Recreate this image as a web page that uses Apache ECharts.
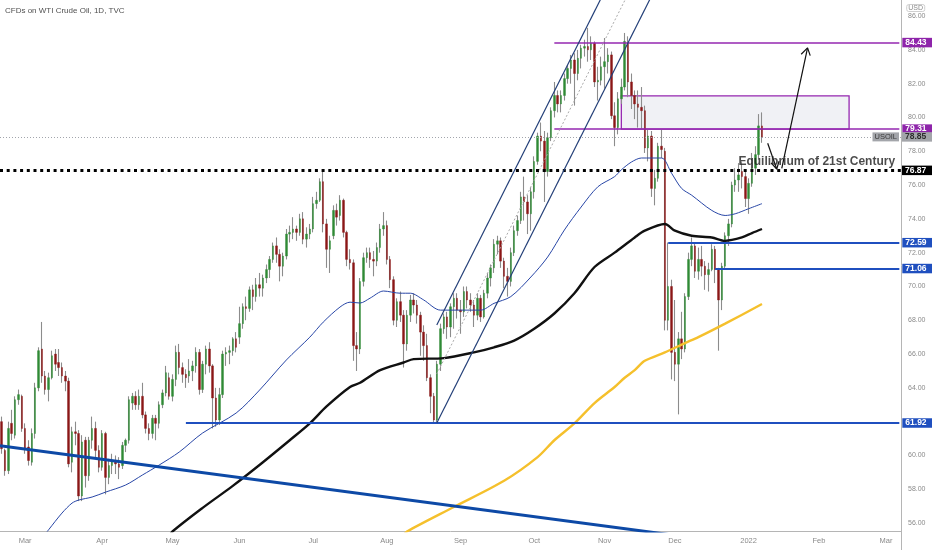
<!DOCTYPE html>
<html>
<head>
<meta charset="utf-8">
<script src="https://cdn.jsdelivr.net/npm/echarts@6/dist/echarts.min.js"></script>
</head>
<body style="margin:0;background:#fff">
<div id="chart" style="width:932px;height:550px"></div>
<script>
// trading days: weekdays between these dates, minus the days TVC had no bar
var firstDay = '2021-02-18', lastDay = '2022-03-07';
var closedDays = ['2021-04-02', '2021-05-31', '2021-11-25', '2021-12-24'];

// daily candles, [open, close, low, high]
var feb21 = [[62.0,60.4,60.1,62.3],[60.3,59.1,58.8,60.4],[59.1,61.6,58.9,62.0],[61.9,61.3,60.9,62.7],[61.2,63.3,61.0,63.5],[63.3,63.6,63.0,63.9],[63.5,61.6,61.4,63.6]];
var mar21 = [[61.6,60.4,60.1,61.9],[60.5,59.7,59.4,60.9],[59.6,61.3,59.4,61.6],[61.3,64.0,61.0,64.3],[64.0,66.2,63.8,66.4],[66.3,64.7,64.3,67.9],[64.7,63.9,63.6,65.0],[63.9,64.6,63.2,64.9],[64.6,65.9,64.5,66.2],[66.0,65.4,65.0,66.3],[65.5,65.2,64.7,66.3],[65.2,64.7,64.3,65.5],[64.7,64.4,63.8,65.0],[64.4,59.5,59.3,64.6],[59.6,61.4,59.0,61.7],[61.4,61.3,60.6,62.0],[61.3,57.6,57.3,61.5],[57.6,60.8,57.3,61.2],[60.9,58.8,58.1,61.1],[58.8,60.9,58.5,61.1],[60.9,61.6,60.4,62.3],[61.6,60.3,59.9,62.0],[60.3,59.3,59.0,60.6]];
var apr21 = [[59.3,61.3,59.1,61.5],[61.3,58.7,57.7,61.4],[58.7,59.4,58.3,59.8],[59.4,59.7,58.9,60.1],[59.7,59.5,58.9,60.0],[59.5,59.3,58.6,59.9],[59.4,60.6,59.2,60.8],[60.6,60.9,60.2,61.0],[60.9,63.3,60.7,63.5],[63.1,63.5,62.7,63.7],[63.5,63.0,62.7,63.8],[63.0,63.5,62.7,63.9],[63.5,62.4,62.2,64.3],[62.4,61.6,61.3,62.6],[61.6,61.3,60.9,61.9],[61.3,62.2,61.0,62.4],[62.2,61.9,60.9,62.4],[61.9,63.0,61.6,63.2],[63.0,63.7,62.8,63.9],[63.7,64.9,63.5,65.3],[64.6,63.5,63.3,64.9]];
var may21 = [[63.5,64.5,63.2,64.8],[64.5,66.1,64.1,66.5],[66.1,65.2,64.8,66.6],[65.2,64.8,64.3,65.5],[64.8,64.6,64.0,65.1],[64.7,65.0,64.3,65.7],[65.0,65.3,64.4,65.6],[65.3,66.1,64.9,66.4],[66.1,63.9,63.6,66.3],[63.9,65.4,63.7,65.6],[65.4,66.3,64.8,66.5],[66.3,65.3,64.9,66.7],[65.3,63.4,61.6,65.4],[63.4,62.1,61.7,64.0],[62.1,63.6,61.8,64.0],[63.6,66.0,63.4,66.2],[66.0,66.1,65.3,66.4],[66.1,66.2,65.4,66.5],[66.2,66.9,65.9,67.0],[66.9,66.4,66.1,67.3]];
var jun21 = [[67.0,67.8,66.6,68.8],[67.8,68.8,67.5,69.0],[68.8,68.7,68.0,69.4],[68.7,69.8,68.5,70.0],[69.8,69.4,68.6,70.1],[69.4,70.1,69.1,70.5],[70.1,69.9,69.4,70.8],[69.9,70.5,69.4,70.7],[70.5,71.0,70.2,71.3],[71.0,71.6,70.5,71.8],[71.6,72.4,71.4,72.6],[72.4,71.9,71.4,72.9],[71.9,71.2,70.3,72.2],[71.2,71.8,70.6,72.0],[71.8,73.1,71.6,73.4],[73.1,73.2,72.6,73.6],[73.2,73.4,72.8,74.1],[73.4,73.2,72.7,73.6],[73.2,74.0,73.0,74.3],[74.0,72.8,72.5,74.4],[72.8,73.1,72.3,73.5],[73.1,73.4,72.8,73.7]];
var jul21 = [[73.4,74.9,73.2,75.3],[74.9,75.1,74.6,75.6],[75.1,76.2,75.0,76.4],[76.2,73.7,73.2,76.87],[73.7,72.2,71.1,74.0],[72.2,72.7,70.8,73.0],[73.0,74.5,72.8,74.8],[74.5,74.1,73.6,74.9],[74.2,75.1,73.9,75.4],[75.1,73.2,72.9,75.2],[73.2,71.6,71.2,73.3],[71.6,71.4,71.0,72.2],[71.4,66.5,65.6,71.6],[66.5,66.3,65.0,67.3],[66.3,70.3,66.0,70.5],[70.3,71.7,70.0,72.0],[71.7,72.0,71.4,72.3],[72.0,71.6,71.1,72.3],[71.6,71.5,70.6,72.1],[71.5,72.3,71.2,72.6],[72.3,73.4,72.0,73.7],[73.4,73.6,73.0,74.4]];
var aug21 = [[73.6,71.6,71.3,73.9],[71.6,70.4,69.9,71.8],[70.4,68.0,67.7,70.6],[68.0,69.1,67.6,69.3],[69.1,68.3,67.9,69.7],[68.3,66.6,65.2,68.6],[66.6,68.3,66.2,68.6],[68.3,69.2,67.9,69.5],[69.2,68.9,68.4,69.6],[68.9,68.3,67.8,69.2],[68.3,67.3,65.9,68.5],[67.3,66.5,65.6,67.7],[66.5,64.6,64.4,67.2],[64.6,63.5,62.5,64.8],[63.5,62.1,61.92,63.7],[62.1,65.4,61.95,65.6],[65.4,67.5,65.0,67.8],[67.5,68.2,67.2,68.4],[68.2,67.6,66.9,68.5],[67.6,68.8,67.0,69.0],[68.8,69.3,67.5,69.6],[69.3,68.6,68.1,69.6]];
var sep21 = [[68.6,68.5,67.2,69.2],[68.5,69.7,68.2,70.0],[69.7,69.2,68.7,70.0],[69.2,68.9,68.5,69.6],[68.9,68.3,67.6,69.2],[68.3,69.3,68.0,69.6],[69.3,68.2,67.9,69.5],[68.2,69.6,68.1,69.8],[69.6,70.5,69.3,70.8],[70.5,71.1,70.0,71.3],[71.1,72.5,70.8,72.8],[72.5,72.7,71.9,73.0],[72.7,71.5,71.1,72.9],[71.5,70.6,69.9,71.7],[70.6,70.3,69.4,71.1],[70.3,72.0,70.0,72.3],[72.0,73.3,71.8,73.6],[73.3,73.9,73.0,74.2],[73.9,75.3,73.7,75.6],[75.3,75.0,73.9,76.5],[75.0,74.3,73.1,75.4],[74.3,75.6,73.3,75.9]];
var oct21 = [[75.6,77.4,75.2,77.7],[77.4,78.9,77.2,79.1],[78.9,78.6,78.0,79.7],[78.6,76.8,75.0,79.2],[76.8,78.8,76.5,79.1],[78.8,80.4,78.6,80.6],[80.4,81.3,80.0,82.1],[81.3,80.8,80.3,81.6],[80.8,81.3,80.3,81.6],[81.3,82.3,81.0,82.6],[82.3,82.9,82.0,83.1],[82.9,83.4,82.0,83.7],[83.4,82.6,80.7,83.8],[82.6,83.5,82.2,84.0],[83.5,84.1,82.9,84.3],[84.1,84.2,83.6,84.6],[84.2,84.0,83.3,85.3],[84.0,84.4,83.4,84.8],[84.4,82.1,81.8,84.5],[82.1,82.2,81.0,83.0],[82.2,83.0,81.9,83.6]];
var nov21 = [[83.0,83.3,81.7,84.7],[83.3,83.7,82.6,84.1],[83.7,80.1,79.9,83.9],[80.1,79.4,78.3,80.9],[79.4,81.1,79.0,81.5],[81.1,81.8,80.8,82.3],[81.8,84.5,81.6,85.0],[84.4,82.1,81.2,84.8],[82.1,81.3,80.5,82.6],[81.3,80.8,79.9,81.6],[80.8,80.6,79.4,81.6],[80.6,80.4,79.3,81.8],[80.4,78.2,77.9,80.7],[78.2,78.9,77.4,79.3],[78.9,75.8,75.3,79.2],[75.8,76.4,74.8,76.9],[76.4,78.3,76.2,78.5],[78.3,78.1,77.6,79.3],[78.0,68.0,67.4,78.2],[68.0,70.0,67.4,72.6],[70.0,66.1,64.5,70.4]];
var dec21 = [[66.1,65.4,64.4,69.2],[65.4,66.9,62.43,67.3],[66.9,66.3,65.7,68.5],[66.3,69.4,66.1,69.6],[69.4,71.6,69.2,72.0],[71.6,72.4,71.2,72.9],[72.4,70.9,70.5,72.6],[70.9,71.6,70.4,72.3],[71.6,71.2,70.6,72.4],[71.2,70.7,69.8,71.5],[70.7,71.0,69.7,71.4],[71.0,72.2,70.9,72.5],[72.2,71.0,70.2,72.4],[71.0,69.2,66.2,71.1],[69.2,71.2,68.6,71.4],[71.2,73.0,71.0,73.2],[73.0,73.7,72.4,74.0],[73.7,76.0,73.5,76.2],[76.0,76.3,75.6,77.0],[76.3,76.6,75.6,77.3],[76.8,76.5,75.8,77.4],[76.5,75.2,74.7,76.8]];
var jan22 = [[75.2,76.1,74.3,76.4],[76.1,77.0,75.9,77.9],[77.0,77.8,76.6,78.3],[77.8,79.5,77.5,80.2],[79.5,78.85,78.5,80.3]];

// moving averages, [day, price]
var maBlue = [['2021-03-08',55.1],['2021-03-10',55.6],['2021-03-16',56.59],['2021-03-19',57.18],['2021-03-23',57.36],['2021-03-29',57.54],['2021-04-05',57.83],['2021-04-13',58.25],['2021-04-20',58.84],['2021-04-27',59.43],['2021-05-05',60.2],['2021-05-14',61.33],['2021-05-28',62.51],['2021-06-09',63.87],['2021-06-21',65.65],['2021-06-30',67.0],['2021-07-06',67.89],['2021-07-13',68.78],['2021-07-16',69.07],['2021-07-21',69.02],['2021-07-26',69.31],['2021-07-30',69.73],['2021-08-06',69.6],['2021-08-11',69.6],['2021-08-17',69.2],['2021-08-24',68.6],['2021-09-09',68.6],['2021-09-15',69.0],['2021-09-22',69.4],['2021-09-30',70.56],['2021-10-07',71.74],['2021-10-14',73.34],['2021-10-21',74.7],['2021-10-28',75.9],['2021-11-04',76.5],['2021-11-08',76.9],['2021-11-11',77.36],['2021-11-16',77.6],['2021-11-24',77.6],['2021-11-30',76.7],['2021-12-03',75.8],['2021-12-08',75.4],['2021-12-16',74.5],['2021-12-22',74.2],['2021-12-28',74.3],['2022-01-03',74.6],['2022-01-07',74.9]];
var maBlack = [['2021-04-30',55.2],['2021-05-03',55.5],['2021-05-14',56.9],['2021-05-27',58.2],['2021-06-10',59.6],['2021-06-22',60.9],['2021-06-30',61.9],['2021-07-07',62.9],['2021-07-16',64.05],['2021-07-21',64.3],['2021-07-29',65.05],['2021-08-09',65.5],['2021-08-12',65.7],['2021-08-25',65.76],['2021-09-07',66.1],['2021-09-15',66.4],['2021-09-23',66.8],['2021-10-01',67.5],['2021-10-11',68.4],['2021-10-19',69.6],['2021-10-27',71.15],['2021-11-04',72.0],['2021-11-12',72.9],['2021-11-17',73.3],['2021-11-26',73.7],['2021-12-01',73.3],['2021-12-08',73.0],['2021-12-16',72.9],['2021-12-22',72.7],['2021-12-30',72.9],['2022-01-04',73.16],['2022-01-07',73.4]];
var maGold = [['2021-08-09',55.3],['2021-08-10',55.5],['2021-08-30',56.95],['2021-09-20',58.5],['2021-10-04',59.9],['2021-10-11',60.9],['2021-10-19',61.9],['2021-10-27',63.1],['2021-11-04',64.05],['2021-11-09',64.6],['2021-11-12',65.05],['2021-11-17',65.6],['2021-11-26',66.1],['2021-12-06',66.65],['2021-12-10',67.0],['2021-12-22',67.8],['2022-01-07',68.96]];

// drawn levels: [from day, price]
var lowLevel = ['2021-05-07', 61.92];
var topLevel = ['2021-10-11', 84.43];
var boxLevel = ['2021-10-11', 79.31];
var supportA = ['2021-11-29', 72.59];
var supportB = ['2021-12-17', 71.06];
var equilibrium = 76.87;
var lastPrice = 78.85;
var zone = [['2021-11-08', 81.28], ['2022-02-14', 79.31]];

// hand-drawn lines, [bar position, price]
var trendDown = [[-0.5, 60.58], [200, 55.30]];
var chanHigh = [[129.9, 67.72], [180.1, 87.5]];
var chanMid = [[129.9, 64.82], [187.5, 87.5]];
var chanLow = [[129.9, 61.92], [195, 87.57]];
var arrowDown = [[228.7, 78.47], [231.4, 76.95]];
var arrowDownHead = [[229.7, 77.31], [231.4, 76.95], [232.1, 77.42]];
var arrowUp = [[232.9, 76.99], [240.6, 84.12]];
var arrowUpHead = [[238.7, 83.74], [240.6, 84.12], [241.4, 83.66]];
var noteAt = [219.8, 77.36];
var noteText = 'Equilibrium of 21st Century';

var monthNames = ['Jan','Feb','Mar','Apr','May','Jun','Jul','Aug','Sep','Oct','Nov','Dec'];

var days = [];
var tEnd = Date.parse(lastDay + 'T00:00:00Z');
for (var t = Date.parse(firstDay + 'T00:00:00Z'); t <= tEnd; t += 864e5) {
  var dt = new Date(t), wd = dt.getUTCDay(), s = dt.toISOString().slice(0, 10);
  if (wd > 0 && wd < 6 && closedDays.indexOf(s) < 0) days.push(s);
}

var ohlc = [].concat(feb21, mar21, apr21, may21, jun21, jul21, aug21, sep21, oct21, nov21, dec21, jan22);
var bodies = ohlc.map(function (r) {
  return [r[0], r[1], Math.min(r[0], r[1]), Math.max(r[0], r[1])];
});

var FONT = 'Liberation Sans';
var PURPLE = '#9527b0', BLUE = '#1f4fbf', FRAME = '#b5b5b5';

function tag(text, bg, fg, dist) {
  return {
    show: true, position: 'end', distance: dist, formatter: text,
    color: fg, backgroundColor: bg, fontFamily: FONT, fontSize: 8.5, fontWeight: 'bold',
    padding: [1, 3, 0, 3], lineHeight: 8.5, width: 24
  };
}
function level(p, color, width, bg) {
  return [
    { coord: [p[0], p[1]], lineStyle: { color: color, width: width, type: 'solid' }, label: tag(p[1].toFixed(2), bg, '#fff', 3) },
    { coord: [lastDay, p[1]] }
  ];
}
function drawn(data, color, width, type) {
  return {
    type: 'line', xAxisIndex: 1, data: data, symbol: 'none', silent: true, z: 6,
    lineStyle: { color: color, width: width, type: type || 'solid' }
  };
}

var chart = echarts.init(document.getElementById('chart'));
chart.setOption({
  animation: false,
  backgroundColor: '#fff',
  title: [
    { text: 'CFDs on WTI Crude Oil, 1D, TVC', left: 5, top: 7, padding: 0,
      textStyle: { fontFamily: FONT, fontSize: 8, fontWeight: 'normal', color: '#505050' } },
    { text: 'USD', right: 7, top: 4, padding: [1, 2, 0, 2], borderColor: '#cfcfcf', borderWidth: 1, borderRadius: 2,
      textStyle: { fontFamily: FONT, fontSize: 7, fontWeight: 'normal', color: '#8a8a8a' } }
  ],
  graphic: [{
    type: 'line', silent: true, z: 1,
    shape: { x1: 901.5, y1: 531, x2: 901.5, y2: 550 },
    style: { stroke: FRAME, lineWidth: 1 }
  }],
  grid: { left: 0, right: 31, top: 0, bottom: 19 },
  xAxis: [{
    type: 'category', data: days, boundaryGap: true,
    axisLine: { onZero: false, lineStyle: { color: FRAME } },
    axisTick: { show: false },
    splitLine: { show: false },
    axisLabel: {
      margin: 6, fontFamily: FONT, fontSize: 7.5, color: '#8a8a8a',
      interval: function (i) { return i > 0 && days[i].slice(5, 7) !== days[i - 1].slice(5, 7); },
      formatter: function (v) { var m = +v.slice(5, 7); return m === 1 ? v.slice(0, 4) : monthNames[m - 1]; }
    }
  }, {
    type: 'value', min: -0.5, max: days.length - 0.5, show: false
  }],
  yAxis: {
    type: 'value', position: 'right', min: 55.53, max: 86.95,
    minInterval: 2, maxInterval: 2, splitNumber: 15,
    axisLine: { show: true, onZero: false, lineStyle: { color: FRAME } },
    axisTick: { show: false },
    splitLine: { show: false },
    axisLabel: {
      margin: 7, fontFamily: FONT, fontSize: 7, color: '#8a8a8a',
      formatter: function (v) { return Math.abs(v % 2) < 1e-6 ? v.toFixed(2) : ''; }
    }
  },
  series: [
    {
      name: 'wicks', type: 'candlestick', data: ohlc, barWidth: 1, silent: true, z: 2,
      itemStyle: { color: '#8c8c8c', color0: '#8c8c8c', borderColor: '#8c8c8c', borderColor0: '#8c8c8c', borderWidth: 1.1 }
    },
    {
      name: 'bodies', type: 'candlestick', data: bodies, barWidth: 2.0, silent: true, z: 3,
      itemStyle: { color: '#2f8a35', color0: '#8b1616', borderColor: '#2f8a35', borderColor0: '#8b1616', borderWidth: 0.4 }
    },
    {
      name: 'blue MA', type: 'line', data: maBlue, smooth: 0.3, symbol: 'none', silent: true, z: 4,
      lineStyle: { color: '#2846a6', width: 1 },
      markArea: {
        silent: true,
        itemStyle: { color: 'rgba(222,225,232,0.45)', borderColor: PURPLE, borderWidth: 1.3 },
        data: [[{ coord: zone[0] }, { coord: zone[1] }]]
      },
      markLine: {
        silent: true, symbol: 'none', precision: 2,
        data: [
          level(lowLevel, BLUE, 2, BLUE),
          level(supportA, BLUE, 2, BLUE),
          level(supportB, BLUE, 2, BLUE),
          level(topLevel, PURPLE, 1.5, '#8e24aa'),
          level(boxLevel, PURPLE, 1.5, '#8e24aa'),
          { yAxis: equilibrium, lineStyle: { color: '#000', width: 3, type: [3, 3.7] },
            label: tag(equilibrium.toFixed(2), '#000', '#fff', 1) },
          { yAxis: lastPrice, lineStyle: { color: '#a2a5ac', width: 1, type: [1, 2] },
            label: tag(lastPrice.toFixed(2), '#a3a5aa', '#2c2c2c', 1) },
          { yAxis: lastPrice, lineStyle: { color: '#a2a5ac', width: 1, type: [1, 2] },
            label: { show: true, position: 'insideEnd', distance: 2, formatter: 'USOIL', color: '#3a3a3a',
              backgroundColor: '#a3a5aa', fontFamily: FONT, fontSize: 7.5, padding: [1, 2, 0, 2], lineHeight: 8 } }
        ]
      }
    },
    { name: 'black MA', type: 'line', data: maBlack, smooth: 0.3, symbol: 'none', silent: true, z: 4,
      lineStyle: { color: '#111', width: 2.4 } },
    { name: 'gold MA', type: 'line', data: maGold, smooth: 0.3, symbol: 'none', silent: true, z: 4,
      lineStyle: { color: '#f5c02c', width: 2.4 } },
    drawn(trendDown, '#0d49a6', 3),
    drawn(chanHigh, '#233f78', 1.2),
    drawn(chanLow, '#233f78', 1.2),
    drawn(chanMid, '#a9a9a9', 1, [2, 2]),
    drawn(arrowDown, '#111', 1.2),
    drawn(arrowDownHead, '#111', 1.2),
    drawn(arrowUp, '#111', 1.2),
    drawn(arrowUpHead, '#111', 1.2),
    {
      type: 'scatter', xAxisIndex: 1, data: [noteAt], symbolSize: 1, silent: true, z: 10,
      itemStyle: { color: 'rgba(0,0,0,0)' },
      label: { show: true, position: 'right', distance: 0, formatter: noteText,
        fontFamily: FONT, fontSize: 12, fontWeight: 'bold', color: '#1e1e1e' }
    }
  ]
});
</script>
</body>
</html>
